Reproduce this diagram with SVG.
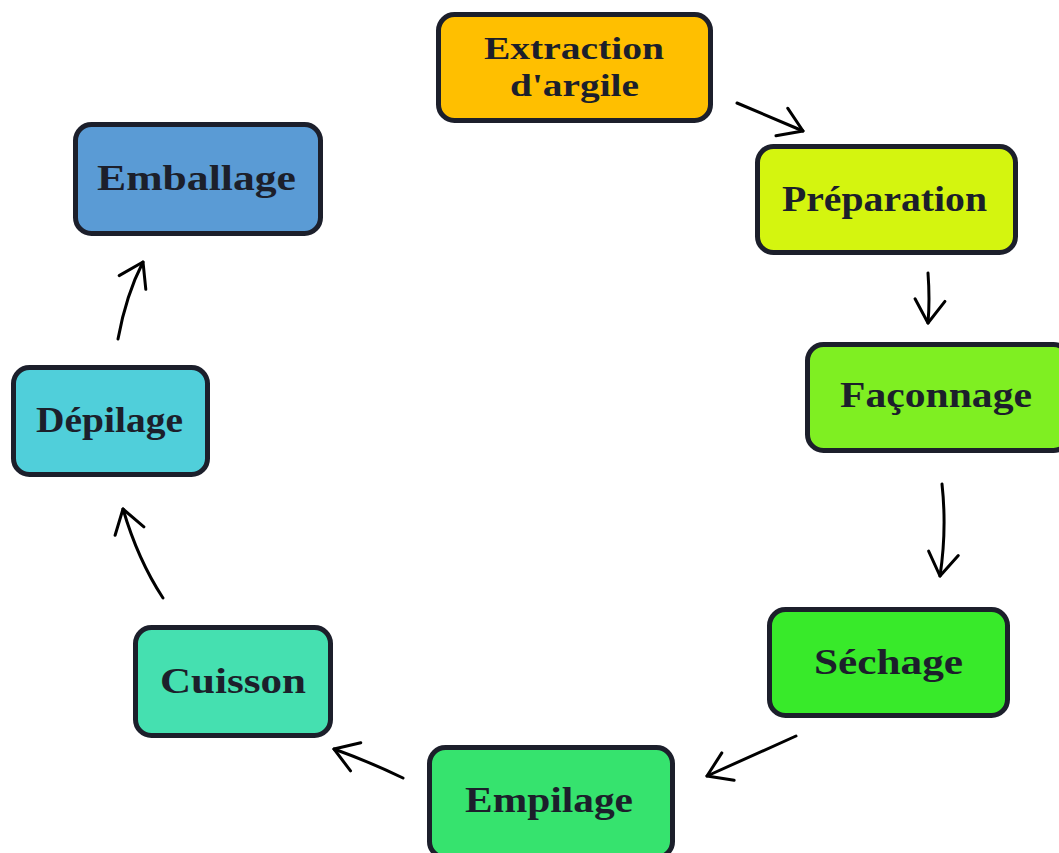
<svg xmlns="http://www.w3.org/2000/svg" width="1059" height="853" viewBox="0 0 1059 853">
  <style>
    .box { stroke: #1c1f2b; stroke-width: 5; }
    .lbl { font-family: "Liberation Serif", "Times New Roman", serif; font-weight: bold; font-size: 35px; fill: #1c1f2b; }
    .lbl2 { font-size: 32px; }
    .edge { fill: none; stroke: #000; stroke-width: 3; stroke-linecap: round; }
  </style>
  <defs>
    <marker id="head" markerUnits="userSpaceOnUse" markerWidth="40" markerHeight="40" viewBox="-30 -20 34 40" refX="0" refY="0" orient="auto" overflow="visible">
      <path d="M-23,-15 L0,0 L-23,15" fill="none" stroke="#000" stroke-width="3" stroke-linecap="round" stroke-linejoin="round"/>
    </marker>
  </defs>
  <rect width="1059" height="853" fill="#fff"/>

  <g id="n-extraction">
    <rect class="box" x="438.5" y="14.5" width="272" height="106" rx="16" fill="#FFBF00"/>
    <text class="lbl lbl2" x="484" y="59" textLength="180" lengthAdjust="spacingAndGlyphs">Extraction</text>
    <text class="lbl lbl2" x="510" y="96" textLength="129" lengthAdjust="spacingAndGlyphs">d'argile</text>
  </g>
  <g id="n-preparation">
    <rect class="box" x="757.5" y="146.5" width="258" height="106" rx="16" fill="#D4F50F"/>
    <text class="lbl" x="782" y="211" textLength="205" lengthAdjust="spacingAndGlyphs">Préparation</text>
  </g>
  <g id="n-faconnage">
    <rect class="box" x="807.5" y="344.5" width="262" height="106" rx="16" fill="#7FEF22"/>
    <text class="lbl" x="840" y="407" textLength="192" lengthAdjust="spacingAndGlyphs">Façonnage</text>
  </g>
  <g id="n-sechage">
    <rect class="box" x="769.5" y="609.5" width="238" height="106" rx="16" fill="#38EA2A"/>
    <text class="lbl" x="814" y="674" textLength="149" lengthAdjust="spacingAndGlyphs">Séchage</text>
  </g>
  <g id="n-empilage">
    <rect class="box" x="429.5" y="747.5" width="243" height="110" rx="16" fill="#36E36E"/>
    <text class="lbl" x="465" y="812" textLength="168" lengthAdjust="spacingAndGlyphs">Empilage</text>
  </g>
  <g id="n-cuisson">
    <rect class="box" x="135.5" y="627.5" width="195" height="108" rx="16" fill="#45E0B0"/>
    <text class="lbl" x="160" y="693" textLength="146" lengthAdjust="spacingAndGlyphs">Cuisson</text>
  </g>
  <g id="n-depilage">
    <rect class="box" x="13.5" y="367.5" width="194" height="107" rx="16" fill="#50CFDA"/>
    <text class="lbl" x="36" y="432" textLength="147" lengthAdjust="spacingAndGlyphs">Dépilage</text>
  </g>
  <g id="n-emballage">
    <rect class="box" x="75.5" y="124.5" width="245" height="109" rx="16" fill="#5A9BD5"/>
    <text class="lbl" x="97" y="190" textLength="199" lengthAdjust="spacingAndGlyphs">Emballage</text>
  </g>

  <g id="connectors">
    <path class="edge" d="M737,103 L803,131" marker-end="url(#head)"/>
    <path class="edge" d="M928,273 Q930,300 928,323" marker-end="url(#head)"/>
    <path class="edge" d="M942,484 Q947,530 940,576" marker-end="url(#head)"/>
    <path class="edge" d="M796,736 L707,776" marker-end="url(#head)"/>
    <path class="edge" d="M403,778 Q370,762 334,749" marker-end="url(#head)"/>
    <path class="edge" d="M163,598 Q138,560 123,509" marker-end="url(#head)"/>
    <path class="edge" d="M118,339 Q126,295 143,262" marker-end="url(#head)"/>
  </g>
</svg>
